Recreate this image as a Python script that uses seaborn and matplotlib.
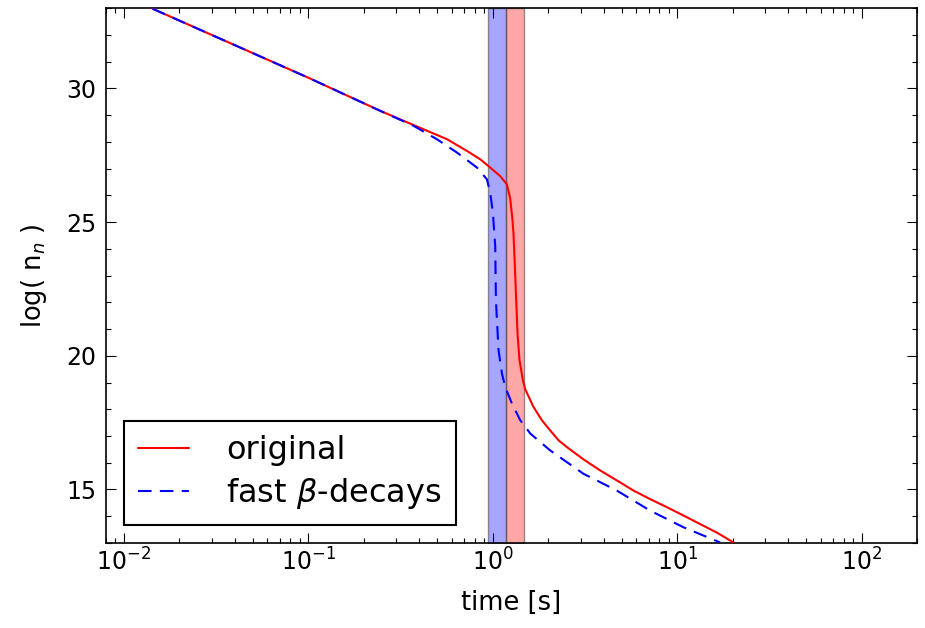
import matplotlib
matplotlib.use("Agg")
import matplotlib.pyplot as plt
from matplotlib.ticker import AutoMinorLocator
import seaborn as sns
import pandas as pd

# ---- data ----
t_orig = [0.0143, 0.1007, 0.2456, 0.372, 0.565, 0.725, 0.855, 0.969, 1.098, 1.194,
          1.244, 1.275, 1.296, 1.319, 1.341, 1.363, 1.397, 1.458, 1.503, 1.663,
          1.847, 2.05, 2.274, 2.52, 3.10, 3.83, 4.71, 5.80, 7.14, 8.79,
          10.8, 13.3, 16.4, 20.2]
logn_orig = [32.98, 30.39, 29.16, 28.63, 28.10, 27.66, 27.35, 27.04, 26.72, 26.41,
             25.88, 25.20, 24.60, 23.34, 22.09, 20.84, 19.84, 19.09, 18.74, 18.09,
             17.59, 17.21, 16.84, 16.59, 16.13, 15.71, 15.34, 14.96, 14.64, 14.34,
             14.03, 13.71, 13.39, 13.02]

t_fast = [0.0143, 0.1007, 0.2456, 0.372, 0.498, 0.64, 0.821, 0.930, 0.969, 1.0025,
          1.032, 1.041, 1.075, 1.122, 1.169, 1.27, 1.41, 1.60, 2.05, 3.10,
          4.71, 7.14, 10.8, 17.1]
logn_fast = [32.98, 30.39, 29.16, 28.60, 28.10, 27.60, 27.04, 26.60, 26.10, 25.35,
             24.09, 22.09, 20.22, 19.34, 18.84, 18.22, 17.59, 17.09, 16.46, 15.59,
             14.96, 14.21, 13.59, 13.02]

band_blue = [0.945, 1.18]
band_red = [1.18, 1.48]

series_labels = ["original", r"fast $\beta$-decays"]
x_ticks = [1e-2, 1e-1, 1e0, 1e1, 1e2]
y_ticks = [15, 20, 25, 30]
y_range = [13, 33]

# ---- style ----
sns.set_style("white")
plt.rcParams.update({
    "font.family": ["DejaVu Sans"],
    "xtick.direction": "in", "ytick.direction": "in",
    "xtick.top": True, "ytick.right": True,
    "xtick.bottom": True, "ytick.left": True,
    "xtick.major.size": 7, "ytick.major.size": 7,
    "xtick.minor.size": 3.5, "ytick.minor.size": 3.5,
    "xtick.major.width": 0.8, "ytick.major.width": 0.8,
    "xtick.minor.width": 0.8, "ytick.minor.width": 0.8,
    "xtick.color": "black", "ytick.color": "black",
    "axes.edgecolor": "black", "axes.linewidth": 1.2,
    "axes.labelcolor": "black", "text.color": "black",
    "mathtext.fontset": "dejavusans",
})

fig = plt.figure(figsize=(9.25, 6.28), dpi=100)
ax = fig.add_axes([0.1146, 0.1354, 0.9914 - 0.1146, 0.987 - 0.1354])

df = pd.concat([
    pd.DataFrame({"t": t_orig, "logn": logn_orig, "series": series_labels[0]}),
    pd.DataFrame({"t": t_fast, "logn": logn_fast, "series": series_labels[1]}),
], ignore_index=True)

# shaded bands in data coordinates
ax.fill_betweenx(y_range, band_blue[0], band_blue[1], facecolor=(0, 0, 1, 0.35),
                 edgecolor=(0.3, 0.3, 0.3, 0.6), lw=1.0, zorder=1)
ax.fill_betweenx(y_range, band_red[0], band_red[1], facecolor=(1, 0, 0, 0.35),
                 edgecolor=(0.3, 0.3, 0.3, 0.6), lw=1.0, zorder=1)

sns.lineplot(data=df, x="t", y="logn", hue="series", style="series",
             palette={series_labels[0]: "red", series_labels[1]: "blue"},
             dashes={series_labels[0]: "", series_labels[1]: (6.5, 4)},
             sort=False, estimator=None, lw=1.5, ax=ax, zorder=3)

ax.set_xscale("log")
ax.set_xlim(0.008, 200)
ax.set_ylim(y_range[0], y_range[1])
ax.set_xticks(x_ticks)
ax.set_yticks(y_ticks)
ax.yaxis.set_minor_locator(AutoMinorLocator(5))
ax.tick_params(axis="both", which="major", labelsize=17)
ax.tick_params(axis="x", which="major", pad=4)
ax.tick_params(axis="y", which="major", pad=7)

ax.set_xlabel("time [s]", fontsize=18.5, labelpad=10)
ax.set_ylabel(r"log( n$_n$ )", fontsize=18.5, labelpad=12)

handles, labels = ax.get_legend_handles_labels()
leg = ax.legend(handles, labels, loc="lower left", fontsize=23, frameon=True,
                fancybox=False, handlelength=1.6, handletextpad=1.15,
                borderpad=0.45, labelspacing=0.3, borderaxespad=0.55)
leg.get_frame().set_edgecolor("black")
leg.get_frame().set_linewidth(1.5)
leg.get_frame().set_alpha(1)

fig.savefig("out.png", dpi=100)
